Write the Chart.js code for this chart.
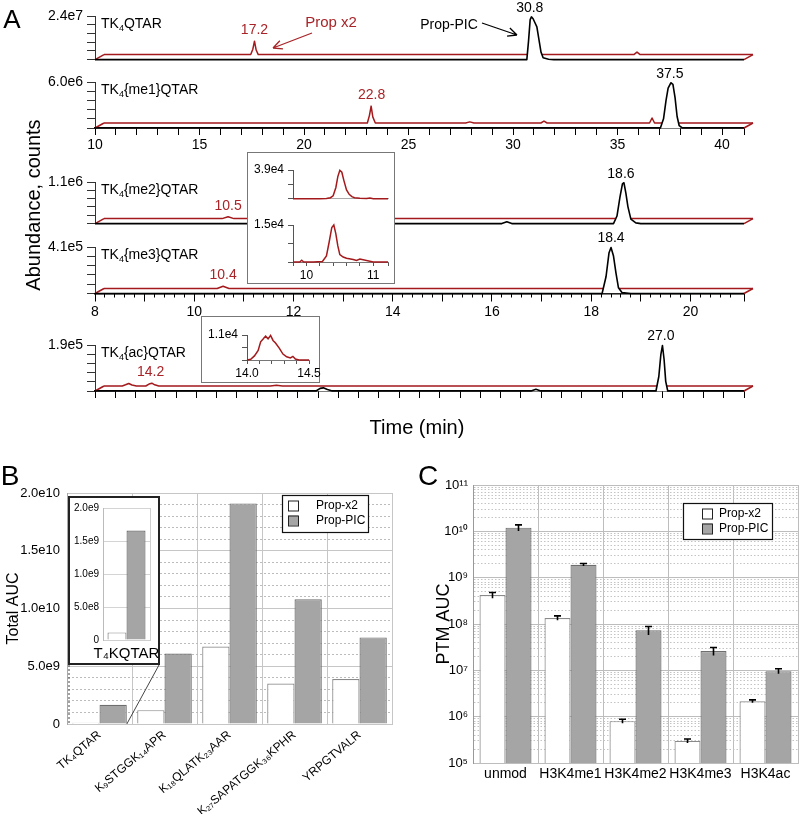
<!DOCTYPE html>
<html>
<head>
<meta charset="utf-8">
<script src="https://cdn.jsdelivr.net/npm/chart.js@4.4.1/dist/chart.umd.min.js"></script>
<style>
  body { margin: 0; background: #fff; }
  #fig { position: relative; width: 800px; height: 816px; overflow: hidden; font-family: "Liberation Sans", Arial, sans-serif; }
  #fig canvas { position: absolute; }
  .box { position: absolute; background: #fff; box-sizing: border-box; }
</style>
</head>
<body>
<div id="fig"></div>
<script>
// ---------- Panel A: ion chromatograms (time in min, abundance in counts) ----------
const traceNames = ['TK_4QTAR', 'TK_4{me1}QTAR', 'TK_4{me2}QTAR', 'TK_4{me3}QTAR', 'TK_4{ac}QTAR'];
const traceMax = [2.4e7, 6.0e6, 1.1e6, 4.1e5, 1.9e5];
const x2PeakRT = [17.2, 22.8, 10.5, 10.4, 14.2];
const picPeakRT = [30.8, 37.5, 18.6, 18.4, 27.0];

// Prop x2 (red) and Prop-PIC (black) traces
const unmodX2T = [10, 17.02, 17.12, 17.2, 17.28, 17.38, 35.35, 35.5, 35.65, 41.05];
const unmodX2Y = [0, 0, 3.0e6, 7.4e6, 2.5e6, 0, 0, 1.4e6, 0, 0];
const unmodPicT = [10, 30.66, 30.74, 30.82, 30.88, 30.96, 31.06, 31.14, 31.24, 31.34, 31.44, 31.7, 31.95, 41.05];
const unmodPicY = [0, 0, 1.0e7, 2.2e7, 2.35e7, 2.25e7, 2.0e7, 1.8e7, 1.1e7, 4.0e6, 1.0e6, 2.0e5, 0, 0];

const me1X2T = [10, 22.6, 22.7, 22.78, 22.86, 22.98, 27.3, 27.5, 27.7, 30.9, 31.05, 31.2, 36.1, 36.22, 36.34, 41.05];
const me1X2Y = [0, 0, 1.0e6, 2.2e6, 8.0e5, 0, 0, 1.5e5, 0, 0, 2.5e5, 0, 0, 6.5e5, 0, 0];
const me1PicT = [10, 37.05, 37.2, 37.32, 37.42, 37.55, 37.65, 37.75, 37.85, 37.95, 38.1, 41.05];
const me1PicY = [0, 0, 1.2e6, 3.6e6, 5.2e6, 5.9e6, 5.7e6, 4.0e6, 1.5e6, 3.0e5, 0, 0];

const me2X2T = [8, 10.38, 10.5, 10.62, 21.08];
const me2X2Y = [0, 0, 5.0e4, 0, 0];
const me2PicT = [8, 16.2, 16.3, 16.4, 18.45, 18.52, 18.58, 18.63, 18.66, 18.7, 18.74, 18.8, 18.9, 19.0, 21.08];
const me2PicY = [0, 0, 5.0e4, 0, 0, 2.0e5, 7.0e5, 1.05e6, 1.08e6, 8.0e5, 4.5e5, 1.2e5, 2.0e4, 0, 0];

const me3X2T = [8, 10.28, 10.4, 10.52, 21.08];
const me3X2Y = [0, 0, 2.0e4, 0, 0];
const me3PicT = [8, 18.22, 18.3, 18.36, 18.4, 18.45, 18.5, 18.55, 18.62, 18.8, 21.08];
const me3PicY = [0, 0, 1.5e5, 3.6e5, 4.05e5, 3.3e5, 1.8e5, 5.0e4, 8.0e3, 0, 0];

const acX2T = [13.05, 13.5, 13.58, 13.66, 13.74, 13.85, 14.08, 14.16, 14.23, 14.3, 14.4, 17.15, 17.3, 17.45, 29.05];
const acX2Y = [0, 0, 5.0e3, 1.05e4, 4.0e3, 0, 0, 8.0e3, 1.15e4, 5.0e3, 0, 0, 3.0e3, 0, 0];
const acPicT = [13.05, 18.5, 18.6, 18.68, 18.78, 18.9, 23.8, 23.92, 24.04, 26.88, 26.95, 27.0, 27.04, 27.08, 27.12, 27.17, 29.05];
const acPicY = [0, 0, 1.1e4, 1.3e4, 6.0e3, 0, 0, 7.0e3, 0, 0, 6.0e4, 1.5e5, 1.88e5, 1.3e5, 4.0e4, 0, 0];

// insets (Prop x2 only)
const insetMax = [3.9e4, 1.5e4, 1.1e4];
const zoomMe2T = [9.8, 10.0, 10.2, 10.3, 10.36, 10.4, 10.44, 10.47, 10.5, 10.53, 10.56, 10.6, 10.64, 10.68, 10.72, 10.8, 10.9, 10.95, 11.0, 11.1, 11.22];
const zoomMe2Y = [0, 0, 0, 400, 1500, 4000, 15000, 30000, 38500, 36000, 25000, 12000, 6000, 3000, 1500, 800, 300, 1000, 200, 0, 0];
const zoomMe3T = [9.8, 9.9, 9.93, 9.96, 10.1, 10.24, 10.3, 10.34, 10.38, 10.41, 10.44, 10.47, 10.5, 10.55, 10.6, 10.7, 10.75, 10.8, 11.0, 11.22];
const zoomMe3Y = [0, 0, 700, 0, 0, 200, 2500, 8000, 14000, 15000, 11500, 6500, 3000, 2000, 1500, 1000, 600, 1200, 0, 0];
const zoomAcT = [14.0, 14.03, 14.06, 14.09, 14.11, 14.13, 14.15, 14.17, 14.19, 14.21, 14.23, 14.26, 14.29, 14.32, 14.35, 14.37, 14.39, 14.42, 14.5];
const zoomAcY = [0, 300, 1800, 4200, 8000, 9200, 10500, 9300, 10800, 8600, 7500, 5200, 2600, 1400, 900, 1600, 400, 0, 0];

// ---------- Panel B: total AUC per peptide ----------
const peptideLabels = ['TK₄QTAR', 'K₉STGGK₁₄APR', 'K₁₈QLATK₂₃AAR', 'K₂₇SAPATGGK₃₆KPHR', 'YRPGTVALR'];
const peptideX2 = [1.15e8, 1.2e9, 6.7e9, 3.5e9, 3.9e9];
const peptidePIC = [1.66e9, 6.1e9, 1.91e10, 1.08e10, 7.5e9];
const insetLabel = ['T₄KQTAR'];

// ---------- Panel C: PTM AUC ----------
const ptmLabels = ['unmod', 'H3K4me1', 'H3K4me2', 'H3K4me3', 'H3K4ac'];
const ptmX2 = [4.2e8, 1.35e8, 8.0e5, 3.0e5, 2.15e6];
const ptmX2Err = [6e7, 1.5e7, 8e4, 3e4, 1.5e5];
const ptmPIC = [1.2e10, 1.9e9, 7.3e7, 2.6e7, 9.6e6];
const ptmPICErr = [1.8e9, 1.2e8, 1.5e7, 5e6, 1.2e6];

// ---------------------------------------------------------------
const FONT = '"Liberation Sans", Arial, sans-serif';
const RED = '#a3191c';
const RED_TXT = '#a82428';

Chart.defaults.font.family = FONT;
Chart.defaults.color = '#000';
Chart.defaults.animation = false;
Chart.defaults.responsive = false;
Chart.defaults.plugins.legend.display = false;
Chart.defaults.plugins.tooltip.enabled = false;

const fig = document.getElementById('fig');

function mkCanvas(left, top, w, h) {
  const c = document.createElement('canvas');
  c.width = w; c.height = h;
  c.style.left = left + 'px'; c.style.top = top + 'px';
  fig.appendChild(c);
  return c;
}

function mkBox(left, top, w, h, border) {
  const d = document.createElement('div');
  d.className = 'box';
  d.style.cssText = `left:${left}px;top:${top}px;width:${w}px;height:${h}px;border:${border};`;
  fig.appendChild(d);
}

function mkText(str, cx, cy, size, rot) {
  const d = document.createElement('div');
  d.textContent = str;
  d.style.cssText = `position:absolute;left:${cx}px;top:${cy}px;font-size:${size}px;line-height:1;white-space:nowrap;` +
    `transform:translate(-50%,-50%) rotate(${rot || 0}deg);`;
  fig.appendChild(d);
}

const pts = (xs, ys) => xs.map((x, i) => ({ x, y: ys[i] }));
const sci = v => v.toExponential(1).replace('+', '');
const near = (v, step) => Math.abs(v / step - Math.round(v / step)) < 1e-6;

// text with _N subscripts
function drawRich(ctx, str, x, y, size, color) {
  let cx = x;
  ctx.fillStyle = color;
  ctx.textAlign = 'left';
  ctx.textBaseline = 'alphabetic';
  str.split(/(_\d+)/).filter(Boolean).forEach(p => {
    if (p[0] === '_') {
      ctx.font = `${Math.round(size * 0.62)}px ${FONT}`;
      ctx.fillText(p.slice(1), cx, y + size * 0.2);
      cx += ctx.measureText(p.slice(1)).width;
    } else {
      ctx.font = `${size}px ${FONT}`;
      ctx.fillText(p, cx, y);
      cx += ctx.measureText(p).width;
    }
  });
}

function arrow(ctx, x1, y1, x2, y2, color) {
  const a = Math.atan2(y2 - y1, x2 - x1);
  ctx.strokeStyle = color;
  ctx.lineWidth = 1.3;
  ctx.beginPath();
  ctx.moveTo(x1, y1); ctx.lineTo(x2, y2);
  [0.45, -0.45].forEach(d => {
    ctx.moveTo(x2, y2);
    ctx.lineTo(x2 - 10 * Math.cos(a + d), y2 - 10 * Math.sin(a + d));
  });
  ctx.stroke();
}

// red trace is drawn shifted up/right, like a stacked 3D view
const traceDeco = {
  id: 'traceDeco',
  beforeDatasetDraw(chart, args, o) {
    if (args.index !== 1) return;
    chart.ctx.save();
    chart.ctx.translate(o.dx, o.dy);
  },
  afterDatasetDraw(chart, args, o) {
    if (args.index !== 1) return;
    const ctx = chart.ctx;
    ctx.restore();
    const { x, y } = chart.scales;
    const d = chart.data.datasets[1].data;
    const y0 = y.getPixelForValue(0);
    ctx.save();
    ctx.strokeStyle = RED;
    ctx.lineWidth = 1.5;
    ctx.beginPath();
    [d[0].x, d[d.length - 1].x].forEach(t => {
      const px = x.getPixelForValue(t);
      ctx.moveTo(px, y0);
      ctx.lineTo(px + o.dx, y0 + o.dy);
    });
    ctx.stroke();
    ctx.restore();
  },
  afterDraw(chart, args, o) {
    const { ctx, chartArea: a, scales: { x, y } } = chart;
    const top = (d, rt) => Math.max(...d.filter(p => Math.abs(p.x - rt) < 0.4).map(p => p.y));
    ctx.save();
    drawRich(ctx, o.name, a.left + 6, a.top + 12, 14, '#000');
    ctx.font = '14px ' + FONT;
    ctx.textAlign = 'center';
    ctx.textBaseline = 'middle';
    ctx.fillStyle = RED_TXT;
    ctx.fillText(o.redPeak.toFixed(1), x.getPixelForValue(o.redPeak) + o.dx,
      y.getPixelForValue(top(chart.data.datasets[1].data, o.redPeak)) + o.dy - 11);
    ctx.fillStyle = '#000';
    ctx.fillText(o.blackPeak.toFixed(1), x.getPixelForValue(o.blackPeak),
      y.getPixelForValue(top(chart.data.datasets[0].data, o.blackPeak)) - 9);
    if (o.notes) {
      ctx.font = '15px ' + FONT;
      ctx.fillStyle = RED_TXT;
      ctx.fillText('Prop x2', 331, 23);
      arrow(ctx, 312, 33, 273, 48, RED_TXT);
      ctx.font = '14px ' + FONT;
      ctx.fillStyle = '#000';
      ctx.fillText('Prop-PIC', 449, 25);
      arrow(ctx, 482, 23, 517, 35, '#000');
    }
    ctx.restore();
  }
};

const axesA = {
  a: { range: [10, 41.05], step: 1, tick: 7, every: 5 },
  b: { range: [8, 21.08], step: 1, tick: 8, every: 2, minor: 0.2 },
  c: { range: [13.05, 29.05], step: 0.5, tick: 7, every: 2 }
};
const traceAxis = ['a', 'a', 'b', 'b', 'c'];
const traceShowAxis = [false, true, false, true, true];
const traceGeo = [
  { top: 0, h: 72, areaTop: 16, areaBottom: 62.5 },
  { top: 62, h: 98, areaTop: 82, areaBottom: 128 },
  { top: 160, h: 76, areaTop: 182, areaBottom: 228.3 },
  { top: 232, h: 98, areaTop: 247, areaBottom: 293.5 },
  { top: 330, h: 98, areaTop: 345, areaBottom: 391 }
];
const x2T = [unmodX2T, me1X2T, me2X2T, me3X2T, acX2T];
const x2Y = [unmodX2Y, me1X2Y, me2X2Y, me3X2Y, acX2Y];
const picT = [unmodPicT, me1PicT, me2PicT, me3PicT, acPicT];
const picY = [unmodPicY, me1PicY, me2PicY, me3PicY, acPicY];

function buildTrace(i) {
  const g = traceGeo[i], ax = axesA[traceAxis[i]], show = traceShowAxis[i], ymax = traceMax[i];
  const xh = show ? 30 : 0;
  const scales = {
    x: {
      type: 'linear', axis: 'x', position: 'bottom', weight: 1, display: show,
      min: ax.range[0], max: ax.range[1],
      ticks: { stepSize: ax.step, autoSkip: false, maxRotation: 0, font: { size: 14 }, padding: 2,
        callback: v => (near(v, ax.every) ? String(Math.round(v)) : '') },
      grid: { drawOnChartArea: false, tickLength: ax.tick, color: '#000' },
      border: { color: '#000', width: 1.4 },
      afterFit: s => { s.height = xh; }
    },
    y: {
      min: 0, max: ymax,
      ticks: { stepSize: ymax / 5, autoSkip: false, font: { size: 14 }, padding: 4,
        callback: v => (Math.abs(v - ymax) < ymax * 1e-6 ? sci(ymax) : '') },
      grid: { drawOnChartArea: false, tickLength: 8, color: '#333' },
      border: { color: '#333', width: 1 },
      afterFit: s => { s.width = 95; }
    }
  };
  if (show && ax.minor) {
    scales.xm = {
      type: 'linear', axis: 'x', position: 'bottom', weight: 0,
      min: ax.range[0], max: ax.range[1],
      ticks: { stepSize: ax.minor, autoSkip: false, display: false },
      grid: { drawOnChartArea: false, tickLength: 4, color: '#000' },
      border: { display: false },
      afterFit: s => { s.height = 0; }
    };
  }
  new Chart(mkCanvas(0, g.top, 800, g.h), {
    type: 'line',
    data: {
      datasets: [
        { data: pts(picT[i], picY[i]), xAxisID: 'x', borderColor: '#000', borderWidth: 1.6,
          fill: 'origin', backgroundColor: '#fff', clip: false },
        { data: pts(x2T[i], x2Y[i]), xAxisID: 'x', borderColor: RED, borderWidth: 1.5,
          fill: false, clip: false }
      ]
    },
    options: {
      layout: { padding: { left: 0, right: 56, top: g.areaTop - g.top,
        bottom: g.h - (g.areaBottom - g.top) - xh } },
      elements: { point: { radius: 0 }, line: { tension: 0, borderJoinStyle: 'round' } },
      scales,
      plugins: { traceDeco: { name: traceNames[i], dx: 9, dy: -5, redPeak: x2PeakRT[i],
        blackPeak: picPeakRT[i], notes: i === 0 } }
    },
    plugins: [traceDeco]
  });
}

for (let i = 0; i < 5; i++) buildTrace(i);

// ---------- insets of panel A ----------
const insetGeo = [
  { left: 249, top: 154, w: 144, h: 56, areaTop: 170, areaBottom: 207, areaLeft: 293, areaRight: 388, xh: 0 },
  { left: 249, top: 211, w: 144, h: 72, areaTop: 225, areaBottom: 262, areaLeft: 293, areaRight: 388, xh: 21 },
  { left: 203, top: 318, w: 125, h: 64, areaTop: 335, areaBottom: 360, areaLeft: 247, areaRight: 309, xh: 20 }
];
const insetT = [zoomMe2T, zoomMe3T, zoomAcT];
const insetY = [zoomMe2Y, zoomMe3Y, zoomAcY];
const insetRange = [[9.8, 11.22], [9.8, 11.22], [14.0, 14.5]];
const insetStep = [0.2, 0.2, 0.1];
const insetEvery = [1, 1, 0.5];

mkBox(247, 152, 148, 132, '1px solid #777');
mkBox(201, 316, 119, 67, '1px solid #777');

function buildInset(k) {
  const g = insetGeo[k], ymax = insetMax[k], lab = k > 0;
  new Chart(mkCanvas(g.left, g.top, g.w, g.h), {
    type: 'line',
    data: { datasets: [{ data: pts(insetT[k], insetY[k]), borderColor: RED, borderWidth: 1.5, clip: false }] },
    options: {
      layout: { padding: { left: 0, right: g.left + g.w - g.areaRight, top: g.areaTop - g.top,
        bottom: g.h - (g.areaBottom - g.top) - g.xh } },
      elements: { point: { radius: 0 }, line: { tension: 0 } },
      scales: {
        x: {
          type: 'linear', min: insetRange[k][0], max: insetRange[k][1],
          ticks: { display: lab, stepSize: insetStep[k], autoSkip: false, maxRotation: 0, font: { size: 12 }, padding: 2,
            callback: v => (near(v, insetEvery[k]) ? (k === 2 ? v.toFixed(1) : String(Math.round(v))) : '') },
          grid: { drawOnChartArea: false, drawTicks: lab, tickLength: 4, color: '#555' },
          border: { color: lab ? '#777' : '#aaa', width: 1 },
          afterFit: s => { s.height = g.xh; }
        },
        y: {
          min: 0, max: ymax,
          ticks: { stepSize: ymax / 2, autoSkip: false, font: { size: 12 }, padding: 4,
            callback: v => (Math.abs(v - ymax) < ymax * 1e-6 ? sci(ymax) : '') },
          grid: { drawOnChartArea: false, tickLength: 5, color: '#555' },
          border: { color: '#555', width: 1 },
          afterFit: s => { s.width = g.areaLeft - g.left; }
        }
      }
    }
  });
}
for (let k = 0; k < 3; k++) buildInset(k);

// ---------- shared bits for B and C ----------
const boxLegend = {
  id: 'boxLegend',
  afterDraw(chart, args, o) {
    const { ctx, chartArea: a } = chart;
    const bx = Math.round(a.right - o.right - o.w), by = Math.round(a.top + o.top);
    ctx.save();
    ctx.fillStyle = '#fff';
    ctx.fillRect(bx, by, o.w, o.h);
    ctx.strokeStyle = '#111';
    ctx.lineWidth = 1.2;
    ctx.strokeRect(bx + 0.5, by + 0.5, o.w, o.h);
    ctx.font = o.size + 'px ' + FONT;
    ctx.textAlign = 'left';
    ctx.textBaseline = 'middle';
    chart.data.datasets.forEach((ds, i) => {
      const cy = by + 10.5 + i * 15;
      ctx.fillStyle = ds.backgroundColor;
      ctx.fillRect(bx + o.sq, cy - 5, 10, 10);
      ctx.strokeStyle = '#222';
      ctx.lineWidth = 1;
      ctx.strokeRect(bx + o.sq + 0.5, cy - 5 + 0.5, 10, 10);
      ctx.fillStyle = '#000';
      ctx.fillText(ds.label, bx + o.tx, cy);
    });
    ctx.restore();
  }
};

const errBars = {
  id: 'errBars',
  afterDatasetsDraw(chart) {
    const { ctx, scales: { y } } = chart;
    ctx.save();
    ctx.strokeStyle = '#000';
    ctx.lineWidth = 1.6;
    chart.data.datasets.forEach((ds, i) => {
      chart.getDatasetMeta(i).data.forEach((bar, j) => {
        const yt = y.getPixelForValue(ds.data[j] + ds.errors[j]);
        const yb = y.getPixelForValue(ds.data[j] - ds.errors[j]);
        ctx.beginPath();
        ctx.moveTo(bar.x, yb); ctx.lineTo(bar.x, yt);
        ctx.moveTo(bar.x - 3.5, yt); ctx.lineTo(bar.x + 3.5, yt);
        ctx.stroke();
      });
    });
    ctx.restore();
  }
};

// dotted + slanted lines tying the inset to the first group
const zoomLines = {
  id: 'zoomLines',
  afterDraw(chart, args, o) {
    const { ctx, chartArea: a } = chart;
    const bar = chart.getDatasetMeta(1).data[0];
    ctx.save();
    ctx.strokeStyle = '#444';
    ctx.lineWidth = 1;
    ctx.setLineDash([2, 2]);
    ctx.beginPath(); ctx.moveTo(o.x0, o.y0); ctx.lineTo(o.x0, a.bottom); ctx.stroke();
    ctx.setLineDash([]);
    ctx.beginPath(); ctx.moveTo(o.x1, o.y0); ctx.lineTo(bar.x + bar.width / 2, a.bottom); ctx.stroke();
    ctx.restore();
  }
};

const barStyle = [
  { backgroundColor: '#fff', borderColor: '#8a8a8a', borderWidth: 1.2 },
  { backgroundColor: '#a5a5a5', borderColor: '#6e6e6e', borderWidth: 1.2 }
];

// ---------- Panel B ----------
new Chart(mkCanvas(0, 470, 400, 346), {
  type: 'bar',
  data: {
    labels: peptideLabels,
    datasets: [
      { label: 'Prop-x2', data: peptideX2, ...barStyle[0], categoryPercentage: 0.84, barPercentage: 1 },
      { label: 'Prop-PIC', data: peptidePIC, ...barStyle[1], categoryPercentage: 0.84, barPercentage: 1 }
    ]
  },
  options: {
    layout: { padding: { left: 0, right: 8, top: 23, bottom: 2 } },
    scales: {
      x: {
        grid: { offset: true, drawTicks: false, color: '#c6c6c6' },
        border: { color: '#c6c6c6' },
        ticks: { minRotation: 40, maxRotation: 40, autoSkip: false, padding: 4, font: { size: 12 } },
        afterFit: s => { s.height = 90; }
      },
      y: {
        min: 0, max: 2e10,
        ticks: { stepSize: 1e9, autoSkip: false, padding: 7, font: { size: 13 },
          callback: v => (v % 5e9 === 0 ? (v === 0 ? '0' : sci(v)) : '') },
        grid: { drawTicks: false, color: c => (c.tick && c.tick.value % 5e9 !== 0 ? '#bcbcbc' : '#c6c6c6') },
        border: { color: '#aaa', dash: c => (c.tick && c.tick.value % 5e9 !== 0 ? [2, 2] : []) },
        title: { display: true, text: 'Total AUC', font: { size: 16 }, padding: { top: 4, bottom: 0 } },
        afterFit: s => { s.width = 67; }
      }
    },
    plugins: {
      boxLegend: { right: 24, top: 2, w: 86, h: 37, sq: 6, tx: 34, size: 12 },
      zoomLines: { x0: 69, x1: 159, y0: 195 }
    }
  },
  plugins: [boxLegend, zoomLines]
});

// inset of B
mkBox(68, 496, 92, 169, '2px solid #222');
new Chart(mkCanvas(70, 498, 120, 165), {
  type: 'bar',
  data: {
    labels: insetLabel,
    datasets: [
      { data: [peptideX2[0]], ...barStyle[0], categoryPercentage: 0.81, barPercentage: 1 },
      { data: [peptidePIC[0]], ...barStyle[1], categoryPercentage: 0.81, barPercentage: 1 }
    ]
  },
  options: {
    layout: { padding: { left: 0, right: 40, top: 3, bottom: 0 } },
    scales: {
      x: {
        grid: { offset: true, drawTicks: false, color: '#cfcfcf' },
        border: { color: '#cfcfcf' },
        ticks: { maxRotation: 0, padding: 5, font: { size: 15 } },
        afterFit: s => { s.height = 23; }
      },
      y: {
        min: 0, max: 2e9,
        ticks: { stepSize: 5e8, padding: 4, font: { size: 10 },
          callback: v => (v === 0 ? '0' : sci(v)) },
        grid: { drawTicks: false, color: '#d4d4d4' },
        border: { color: '#bbb' },
        afterFit: s => { s.width = 33; }
      }
    }
  }
});

// ---------- Panel C ----------
const isPow10 = v => { const e = Math.log10(v); return Math.abs(e - Math.round(e)) < 1e-9; };
const SUP = '⁰¹²³⁴⁵⁶⁷⁸⁹';
new Chart(mkCanvas(400, 470, 400, 346), {
  type: 'bar',
  data: {
    labels: ptmLabels,
    datasets: [
      { label: 'Prop-x2', data: ptmX2, errors: ptmX2Err, ...barStyle[0], categoryPercentage: 0.8, barPercentage: 1 },
      { label: 'Prop-PIC', data: ptmPIC, errors: ptmPICErr, ...barStyle[1], categoryPercentage: 0.8, barPercentage: 1 }
    ]
  },
  options: {
    layout: { padding: { left: 0, right: 2, top: 15, bottom: 23 } },
    scales: {
      x: {
        grid: { offset: true, drawTicks: false, color: '#bdbdbd' },
        border: { color: '#bdbdbd' },
        ticks: { maxRotation: 0, autoSkip: false, padding: 3, font: { size: 14 } },
        afterFit: s => { s.height = 30; }
      },
      y: {
        type: 'logarithmic', min: 1e5, max: 1e11,
        afterBuildTicks: s => {
          s.ticks = s.ticks.filter(t => {
            const m = t.value / Math.pow(10, Math.floor(Math.log10(t.value) + 1e-9));
            return Math.abs(m - Math.round(m)) < 1e-6;
          });
        },
        ticks: { autoSkip: false, padding: 5, font: { size: 13 },
          callback: v => (isPow10(v) ? '10' + String(Math.round(Math.log10(v))).split('').map(d => SUP[d]).join('') : '') },
        grid: { drawTicks: false, color: c => (c.tick && !isPow10(c.tick.value) ? '#c4c4c4' : '#bdbdbd') },
        border: { color: '#999', dash: c => (c.tick && !isPow10(c.tick.value) ? [1.5, 2] : []) },
        title: { display: true, text: 'PTM AUC', font: { size: 18 }, padding: { top: 33, bottom: 0 } },
        afterFit: s => { s.width = 73; }
      }
    },
    plugins: {
      boxLegend: { right: 26, top: 18, w: 89, h: 36, sq: 19, tx: 36, size: 12 }
    }
  },
  plugins: [errBars, boxLegend]
});

// ---------- loose text ----------
mkText('A', 12, 19, 26);
mkText('B', 10, 476, 28);
mkText('C', 428, 476, 28);
mkText('Abundance, counts', 33, 205, 20, -90);
mkText('Time (min)', 417, 427, 20);
</script>
</body>
</html>
